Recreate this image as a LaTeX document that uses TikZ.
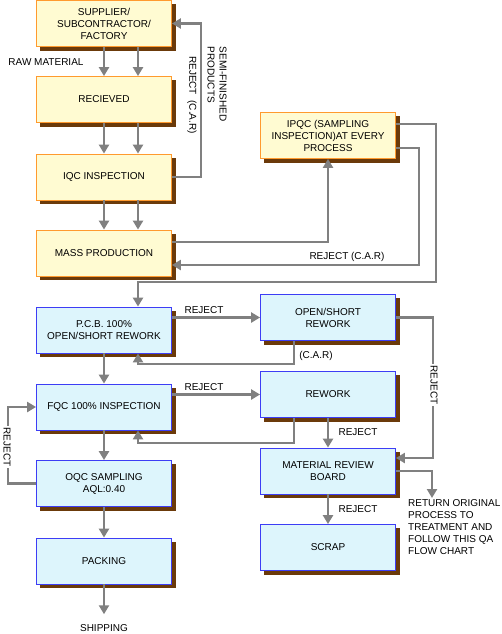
\documentclass[tikz,border=0pt]{standalone}
\usepackage{fontspec}
\setmainfont{Liberation Sans}
\usetikzlibrary{arrows.meta,backgrounds}

\definecolor{qaorange}{HTML}{FF9A2E}
\definecolor{qayellow}{HTML}{FFFBD2}
\definecolor{qablue}{HTML}{3D3DF5}
\definecolor{qacyan}{HTML}{DDF5FC}
\definecolor{qabrown}{HTML}{6B3A0A}
\definecolor{qagray}{HTML}{808080}

\tikzset{
	stagebox/.style={rectangle, draw, line width=0.8pt, minimum width=135pt, minimum height=46pt, inner sep=0pt, align=center},
	orangebox/.style={stagebox, draw=qaorange, fill=qayellow},
	bluebox/.style={stagebox, draw=qablue, fill=qacyan},
	flow/.style={draw=qagray, line width=2.6pt, -{Triangle[width=10pt, length=9pt]}},
	lbl/.style={inner sep=1pt, align=left}
}

\begin{document}
\begin{tikzpicture}[x=1pt, y=-1pt, font=\fontsize{10}{12}\selectfont]
	\useasboundingbox (0,0) rectangle (501,634);

	% left column
	\node[orangebox] (sup) at (104, 23.5) {SUPPLIER/\\SUBCONTRACTOR/\\FACTORY};
	\node[orangebox] (rec) at (104, 99.5) {RECIEVED};
	\node[orangebox] (iqc) at (104, 177) {IQC INSPECTION};
	\node[orangebox] (mass) at (104, 253) {MASS PRODUCTION};
	\node[bluebox] (pcb) at (104, 330) {P.C.B. 100\%\\OPEN/SHORT REWORK};
	\node[bluebox] (fqc) at (104, 407) {FQC 100\% INSPECTION};
	\node[bluebox] (oqc) at (104, 483.5) {OQC SAMPLING\\AQL:0.40};
	\node[bluebox] (pack) at (104, 561) {PACKING};
	\node[lbl] (ship) at (104, 628) {SHIPPING};

	% right column
	\node[orangebox] (ipqc) at (328, 135.5) {IPQC (SAMPLING\\INSPECTION)AT EVERY\\PROCESS};
	\node[bluebox] (os) at (328, 317.5) {OPEN/SHORT\\REWORK};
	\node[bluebox] (rw) at (328, 394.5) {REWORK};
	\node[bluebox] (mrb) at (328, 471) {MATERIAL REVIEW\\BOARD};
	\node[bluebox] (scrap) at (328, 547.5) {SCRAP};
	\node[lbl, anchor=north west] (ret) at (407, 498) {RETURN ORIGINAL\\PROCESS TO\\TREATMENT AND\\FOLLOW THIS QA\\FLOW CHART};

	% box shadows
	\begin{scope}[on background layer]
		\foreach \b in {sup,rec,iqc,mass,pcb,fqc,oqc,pack,ipqc,os,rw,mrb,scrap}
			\fill[qabrown] ([shift={(4,4)}]\b.south west) rectangle ([shift={(4,4)}]\b.north east);
	\end{scope}

	% blank patch
	\fill[white] (184, 347) rectangle (232, 360);

	% main flow
	\draw[flow] (sup.south) -- (rec.north);
	\draw[flow] ([xshift=34pt]sup.south) -- ([xshift=34pt]rec.north);
	\draw[flow] (rec.south) -- (iqc.north);
	\draw[flow] ([xshift=34pt]rec.south) -- ([xshift=34pt]iqc.north);
	\draw[flow] (iqc.south) -- (mass.north);
	\draw[flow] ([xshift=34pt]iqc.south) -- ([xshift=34pt]mass.north);
	\draw[flow] (pcb.south) -- (fqc.north);
	\draw[flow] (fqc.south) -- (oqc.north);
	\draw[flow] (oqc.south) -- (pack.north);
	\draw[flow] (pack.south) -- ([yshift=9pt]ship.north);

	% loops
	\draw[flow] (iqc.east) -- ++(29,0) |- (sup.east);
	\draw[flow] ([yshift=11pt]mass.east) -| (ipqc.south);
	\draw[flow] ([yshift=-12.5pt]ipqc.east) -- ++(23,0) |- ([yshift=-12pt]mass.east);
	\draw[flow] ([yshift=11.5pt]ipqc.east) -- ++(40,0) -- ++(0,158) -| ([xshift=34pt]pcb.north);
	\draw[flow] (pcb.east |- os.west) -- (os.west);
	\draw[flow] ([xshift=-34pt]os.south) -- ++(0,23) -| ([xshift=34pt]pcb.south);
	\draw[flow] (os.east) -- ++(37,0) |- ([yshift=13pt]mrb.east);
	\draw[flow] (fqc.east |- rw.west) -- (rw.west);
	\draw[flow] ([xshift=-34pt]rw.south) -- ++(0,25) -| ([xshift=34pt]fqc.south);
	\draw[flow] (rw.south) -- (mrb.north);
	\draw[flow] (oqc.west) -- ++(-28,0) |- (fqc.west);
	\draw[flow] (mrb.east) -| ([xshift=25pt]ret.north west);
	\draw[flow] (mrb.south) -- (scrap.north);

	% labels
	\node[lbl] (raw) at (46, 62) {RAW MATERIAL};
	\node[lbl, rotate=-90] (rj1) at (192, 95) {REJECT\ \ (C.A.R)};
	\node[lbl, rotate=-90] (semi) at (217, 84) {SEMI-FINISHED\\PRODUCTS};
	\node[lbl] (rj2) at (347, 257) {REJECT (C.A.R)};
	\node[lbl] (rj3) at (204, 310) {REJECT};
	\node[lbl] (car) at (316, 356) {(C.A.R)};
	\node[lbl, rotate=-90, fill=white, inner sep=2pt] (rj4) at (434, 385) {REJECT};
	\node[lbl] (rj5) at (204, 387) {REJECT};
	\node[lbl] (rj6) at (358, 432) {REJECT};
	\node[lbl, rotate=-90, fill=white, inner sep=2pt] (rj7) at (7, 447) {REJECT};
	\node[lbl] (rj8) at (358, 509) {REJECT};
\end{tikzpicture}
\end{document}
